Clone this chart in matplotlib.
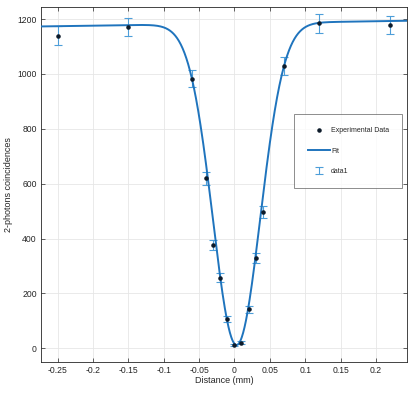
import numpy as np
import matplotlib
matplotlib.use("Agg")
import matplotlib.pyplot as plt

plt.rcParams['font.family'] = ['Liberation Sans', 'DejaVu Sans']
plt.rcParams['axes.unicode_minus'] = False

# Experimental data
distance = [-0.25, -0.15, -0.06, -0.04, -0.03, -0.02, -0.01, 0.0, 0.01, 0.02, 0.03, 0.04, 0.07, 0.12, 0.22]
counts = [1140, 1171, 982, 619, 376, 257, 107, 11, 20, 142, 328, 497, 1029, 1184, 1178]
errors = [34, 34, 31, 25, 19, 16, 10, 4, 5, 12, 18, 22, 32, 34, 34]

# Fit parameters (Gaussian dip on a sloped baseline)
fit_baseline = 1184.0
fit_slope = 40.0
fit_visibility = 0.99
fit_center = 0.003
fit_sigma = 0.0335

xticks = [-0.25, -0.2, -0.15, -0.1, -0.05, 0, 0.05, 0.1, 0.15, 0.2]
xtick_labels = ['-0.25', '-0.2', '-0.15', '-0.1', '-0.05', '0', '0.05', '0.1', '0.15', '0.2']
yticks = [0, 200, 400, 600, 800, 1000, 1200]
ytick_labels = ['0', '200', '400', '600', '800', '1000', '1200']

xlim = (-0.2734, 0.2444)
ylim = (-49, 1245)

fig = plt.figure(figsize=(4.18, 3.94), dpi=100)
ax = fig.add_axes([0.098, 0.082, 0.8765, 0.901])

xf = np.linspace(xlim[0], xlim[1], 800)
yf = (fit_baseline + fit_slope * xf) * (1 - fit_visibility * np.exp(-(xf - fit_center) ** 2 / (2 * fit_sigma ** 2)))

eb = ax.errorbar(distance, counts, yerr=errors, fmt='none', ecolor='#4d9ed9', elinewidth=0.8,
                 capsize=3.0, capthick=0.8, label='data1', zorder=2)
ln, = ax.plot(xf, yf, color='#1f74bd', lw=1.4, label='Fit', zorder=3)
pts, = ax.plot(distance, counts, linestyle='none', marker='.', color='#0d1b2a', markersize=4.5,
               label='Experimental Data', zorder=4)

ax.set_xlim(*xlim)
ax.set_ylim(*ylim)
ax.set_xticks(xticks)
ax.set_xticklabels(xtick_labels)
ax.set_yticks(yticks)
ax.set_yticklabels(ytick_labels)

ax.grid(True, color='#e6e6e6', linewidth=0.6)
ax.set_axisbelow(True)
for s in ax.spines.values():
    s.set_color('#262626')
    s.set_linewidth(0.6)
ax.tick_params(direction='in', length=3, width=0.5, colors='#262626', labelsize=6.2,
               top=True, right=True, pad=3)
ax.set_xlabel('Distance (mm)', fontsize=6.5, color='#262626', labelpad=1)
ax.set_ylabel('2-photons coincidences', fontsize=6.5, color='#262626', labelpad=3)

leg = ax.legend(handles=[pts, ln, eb], loc='upper left', bbox_to_anchor=(0.6915, 0.697),
                fontsize=5.0, frameon=True, fancybox=False, edgecolor='#5a5a5a',
                labelspacing=1.9, handlelength=3.3, borderpad=1.9, handletextpad=0.1,
                borderaxespad=0)
leg.get_frame().set_linewidth(0.6)
for t in leg.get_texts():
    t.set_color('#262626')

fig.savefig('out.png', dpi=100)
